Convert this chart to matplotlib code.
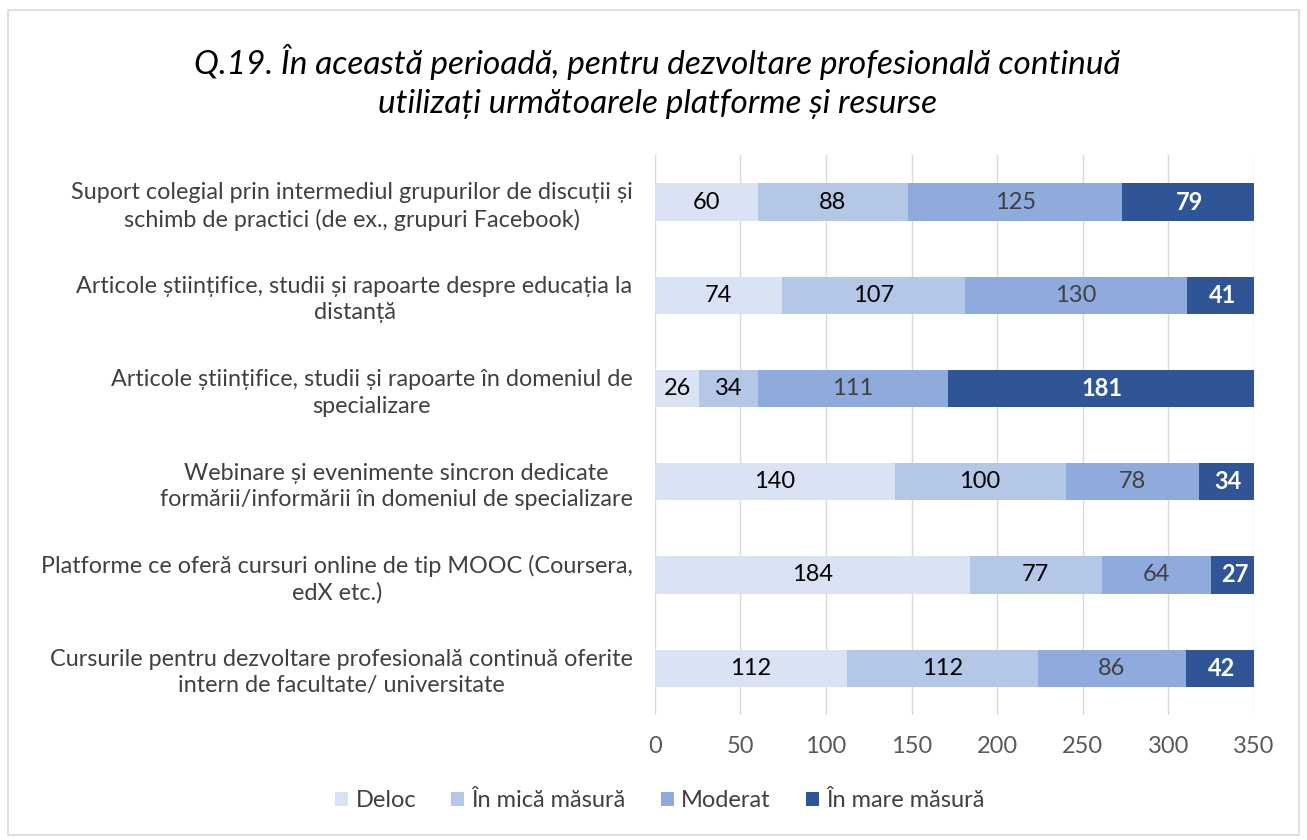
import matplotlib
matplotlib.use("Agg")
import matplotlib.pyplot as plt
from matplotlib.patches import Rectangle
import numpy as np

plt.rcParams['font.family'] = ['Lato', 'DejaVu Sans']

categories = [
    "Suport colegial prin intermediul grupurilor de discuții și\nschimb de practici (de ex., grupuri Facebook)",
    "Articole științifice, studii și rapoarte despre educația la\ndistanță",
    "Articole științifice, studii și rapoarte în domeniul de\nspecializare",
    "Webinare și evenimente sincron dedicate\nformării/informării în domeniul de specializare",
    "Platforme ce oferă cursuri online de tip MOOC (Coursera,\nedX etc.)",
    "Cursurile pentru dezvoltare profesională continuă oferite\nintern de facultate/ universitate",
]
series_names = ["Deloc", "În mică măsură", "Moderat", "În mare măsură"]
deloc = [60, 74, 26, 140, 184, 112]
mica = [88, 107, 34, 100, 77, 112]
moderat = [125, 130, 111, 78, 64, 86]
mare = [79, 41, 181, 34, 27, 42]
xticks = [0, 50, 100, 150, 200, 250, 300, 350]

colors = ["#DAE3F3", "#B4C7E7", "#8FAADC", "#2F5597"]
text_colors = ["#000000", "#000000", "#404040", "#FFFFFF"]
weights = ["normal", "normal", "normal", "bold"]

fig = plt.figure(figsize=(13.07, 8.4), dpi=100)
fig.patches.append(Rectangle((0.006, 0.006), 0.988, 0.982, transform=fig.transFigure,
                             fill=False, edgecolor="#D9D9D9", linewidth=1.2))
ax = fig.add_axes([0.501, 0.149, 0.4585, 0.666])

y = np.arange(len(categories))
left = np.zeros(len(categories))
for vals, name, c, tc, w in zip([deloc, mica, moderat, mare], series_names, colors, text_colors, weights):
    vals = np.array(vals, dtype=float)
    ax.barh(y, vals, left=left, height=0.4, color=c, label=name, zorder=3)
    for yi, l, v in zip(y, left, vals):
        ax.text(l + v / 2, yi, f"{int(v)}", ha="center", va="center", fontsize=17,
                color=tc, fontweight=w, zorder=4)
    left += vals

ax.set_ylim(len(categories) - 0.5, -0.5)
ax.set_xlim(0, 350)
ax.set_xticks(xticks)
ax.set_xticklabels([str(t) for t in xticks], fontsize=17, color="#595959")
ax.set_yticks(y)
ax.set_yticklabels(categories, fontsize=16.8, color="#404040", multialignment="center",
                   linespacing=1.3)
ax.tick_params(axis="y", length=0, pad=16)
ax.tick_params(axis="x", length=0, pad=15)
ax.grid(axis="x", color="#D9D9D9", linewidth=1, zorder=0)
for s in ax.spines.values():
    s.set_visible(False)

fig.text(0.503, 0.903, "Q.19. În această perioadă, pentru dezvoltare profesională continuă\nutilizați următoarele platforme și resurse",
         ha="center", va="center", fontsize=24, style="italic", color="#000000", linespacing=1.35)

handles, labels = ax.get_legend_handles_labels()
fig.legend(handles, labels, loc="center", bbox_to_anchor=(0.505, 0.047), ncol=4, frameon=False,
           fontsize=17, handlelength=0.55, handleheight=0.55, handletextpad=0.3, columnspacing=1.5,
           labelcolor="#404040")

fig.savefig("out.png", dpi=100)
